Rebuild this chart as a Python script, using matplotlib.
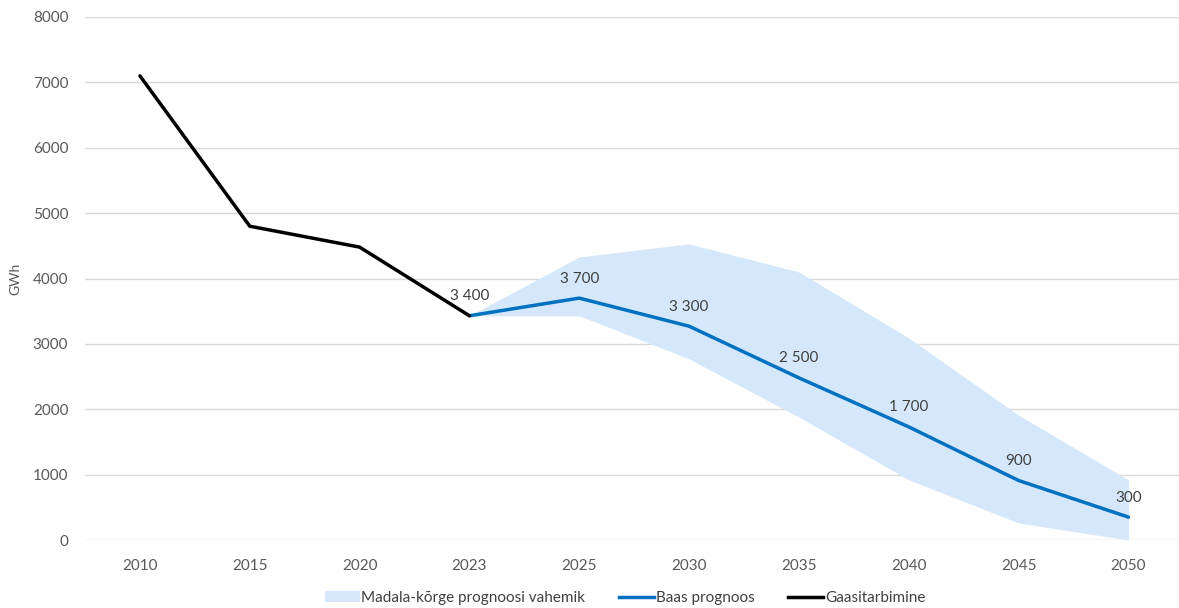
import numpy as np
import matplotlib
matplotlib.use("Agg")
import matplotlib.pyplot as plt
from matplotlib.patches import Patch
from matplotlib.lines import Line2D

years = ["2010", "2015", "2020", "2023", "2025", "2030", "2035", "2040", "2045", "2050"]

# ajalooline tarbimine (2010-2023)
hist_years = ["2010", "2015", "2020", "2023"]
hist_vals = [7100, 4800, 4480, 3430]

# prognoos (2023-2050)
fc_years = ["2023", "2025", "2030", "2035", "2040", "2045", "2050"]
fc_base = [3430, 3700, 3270, 2480, 1730, 910, 350]
fc_low = [3430, 3430, 2770, 1880, 920, 260, 0]
fc_high = [3430, 4330, 4530, 4100, 3090, 1910, 920]
fc_labels = ["3 400", "3 700", "3 300", "2 500", "1 700", "900", "300"]

plt.rcParams['font.family'] = ['Lato', 'DejaVu Sans']

fig = plt.figure(figsize=(11.79, 6.08), dpi=100)
ax = fig.add_axes([85/1179, 1 - 540/608, 1 - 85/1179, (540 - 17)/608])

pos = {y: i for i, y in enumerate(years)}
hx = [pos[y] for y in hist_years]
fx = [pos[y] for y in fc_years]

ax.fill_between(fx, fc_low, fc_high, color="#D5E8FB", linewidth=0, zorder=1)
ax.plot(fx, fc_base, color="#0070C0", linewidth=2.5, solid_capstyle="round", zorder=3)
ax.plot(hx, hist_vals, color="black", linewidth=2.5, solid_capstyle="round", zorder=4)

for x, v, t in zip(fx, fc_base, fc_labels):
    ax.annotate(t, (x, v), xytext=(0, 14), textcoords="offset points",
                ha="center", va="center", fontsize=11, color="#404040", zorder=5)

ax.set_xlim(-0.5, 9.46)
ax.set_ylim(0, 8000)
ax.set_yticks(np.arange(0, 8001, 1000))
ax.set_xticks(range(len(years)))
ax.set_xticklabels(years)
ax.tick_params(axis="both", length=0, labelsize=11, labelcolor="#595959")
ax.tick_params(axis="x", pad=14)
ax.tick_params(axis="y", pad=12)
ax.grid(axis="y", color="#D9D9D9", linewidth=1)
ax.set_axisbelow(True)
for s in ax.spines.values():
    s.set_visible(False)

ax.set_ylabel("GWh", fontsize=10, color="#595959")
ax.yaxis.set_label_coords(-0.058, 0.5)

handles = [Patch(facecolor="#D5E8FB", edgecolor="none"),
           Line2D([], [], color="#0070C0", linewidth=2.5),
           Line2D([], [], color="black", linewidth=2.5)]
names = ["Madala-kõrge prognoosi vahemik", "Baas prognoos", "Gaasitarbimine"]
fig.legend(handles, names, loc="center", bbox_to_anchor=(625/1179, 1 - 598/608),
           ncol=3, frameon=False, fontsize=11, labelcolor="#404040",
           handlelength=2.3, handletextpad=0.1, columnspacing=2.2)

fig.savefig("out.png", dpi=100)
